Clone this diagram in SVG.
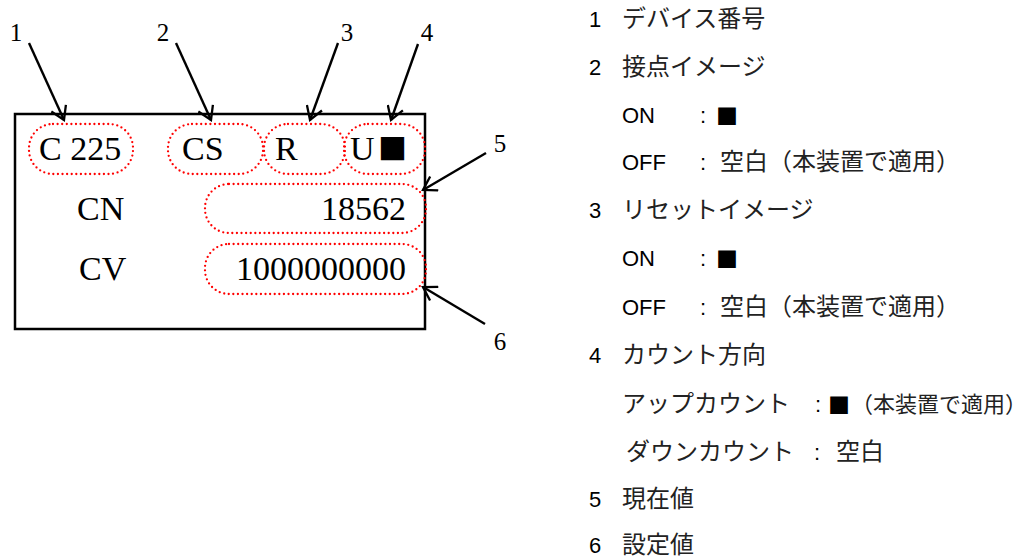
<svg xmlns="http://www.w3.org/2000/svg" width="1030" height="558" viewBox="0 0 1030 558">
<defs>
<marker id="ah" viewBox="0 0 16 18" refX="14" refY="9" markerWidth="16" markerHeight="18" markerUnits="userSpaceOnUse" orient="auto">
<path d="M1,1 L14,9 L1,17" fill="none" stroke="#000" stroke-width="2.3"/>
</marker>
</defs>
<style>
.ser{font-family:"Liberation Serif","Times New Roman",serif;fill:#000}
.big{font-size:34px}
.num{font-size:25px}
.san{font-family:"Liberation Sans",Arial,sans-serif;font-size:22px;fill:#000}
.jp{font-family:"Noto Sans CJK JP","Noto Sans CJK SC",sans-serif;font-size:24px;fill:#222}
.sq{font-family:"Noto Sans CJK JP","Noto Sans CJK SC",sans-serif;font-size:22px;fill:#000}
.dot{fill:none;stroke:#f00;stroke-width:2.3;stroke-dasharray:0 4.6;stroke-linecap:round}
.arr{stroke:#000;stroke-width:2.4;fill:none;marker-end:url(#ah)}
</style>
<rect width="1030" height="558" fill="#fff"/>

<g id="display">
<rect x="15" y="114" width="410" height="215" fill="none" stroke="#000" stroke-width="2.5"/>
<text class="ser big" x="39" y="160">C 225</text>
<text class="ser big" x="182" y="160">CS</text>
<text class="ser big" x="275" y="160">R</text>
<text class="ser big" x="350" y="160">U</text>
<text class="sq" x="378" y="160" style="font-size:29px">■</text>
<text class="ser big" x="77" y="220">CN</text>
<text class="ser big" x="406" y="220" text-anchor="end">18562</text>
<text class="ser big" x="79" y="280">CV</text>
<text class="ser big" x="406" y="280" text-anchor="end">1000000000</text>
</g>

<g id="highlights">
<rect class="dot" x="29" y="124" width="104" height="50" rx="24"/>
<rect class="dot" x="168" y="124" width="95" height="50" rx="24"/>
<rect class="dot" x="264" y="124" width="81" height="50" rx="24"/>
<rect class="dot" x="344" y="124" width="81" height="50" rx="24"/>
<rect class="dot" x="205" y="184" width="221" height="49" rx="24"/>
<rect class="dot" x="205" y="244" width="221" height="50" rx="24"/>
</g>

<g id="callout-labels">
<text class="ser num" x="16" y="41" text-anchor="middle">1</text>
<text class="ser num" x="163" y="41" text-anchor="middle">2</text>
<text class="ser num" x="347" y="41" text-anchor="middle">3</text>
<text class="ser num" x="427" y="41" text-anchor="middle">4</text>
<text class="ser num" x="500" y="152" text-anchor="middle">5</text>
<text class="ser num" x="500" y="350" text-anchor="middle">6</text>
</g>

<g id="connectors">
<line class="arr" x1="29" y1="43" x2="64" y2="120"/>
<line class="arr" x1="176" y1="43" x2="211" y2="120"/>
<line class="arr" x1="338" y1="43" x2="310" y2="120"/>
<line class="arr" x1="418" y1="44" x2="391" y2="120"/>
<line class="arr" x1="486" y1="153" x2="423" y2="190"/>
<line class="arr" x1="485" y1="324" x2="423" y2="287"/>
</g>

<g id="legend">
<text class="san" x="589" y="27">1</text><text class="jp" x="622" y="27">デバイス番号</text>
<text class="san" x="589" y="75">2</text><text class="jp" x="622" y="75">接点イメージ</text>
<text class="san" x="622" y="123">ON</text><text class="san" x="700" y="123">:</text><text class="sq" x="716" y="124">■</text>
<text class="san" x="622" y="170">OFF</text><text class="san" x="700" y="170">:</text><text class="jp" x="720" y="170">空白（本装置で適用）</text>
<text class="san" x="589" y="218">3</text><text class="jp" x="622" y="218">リセットイメージ</text>
<text class="san" x="622" y="266">ON</text><text class="san" x="700" y="266">:</text><text class="sq" x="716" y="267">■</text>
<text class="san" x="622" y="315">OFF</text><text class="san" x="700" y="315">:</text><text class="jp" x="720" y="315">空白（本装置で適用）</text>
<text class="san" x="589" y="363">4</text><text class="jp" x="622" y="363">カウント方向</text>
<text class="jp" x="622" y="412">アップカウント</text><text class="san" x="815" y="412">:</text><text class="sq" x="828" y="413">■</text><text class="jp" x="851" y="412" style="font-size:22px">（本装置で適用）</text>
<text class="jp" x="626" y="460">ダウンカウント</text><text class="san" x="814" y="460">:</text><text class="jp" x="836" y="460">空白</text>
<text class="san" x="589" y="507">5</text><text class="jp" x="622" y="507">現在値</text>
<text class="san" x="589" y="553">6</text><text class="jp" x="622" y="553">設定値</text>
</g>
</svg>
